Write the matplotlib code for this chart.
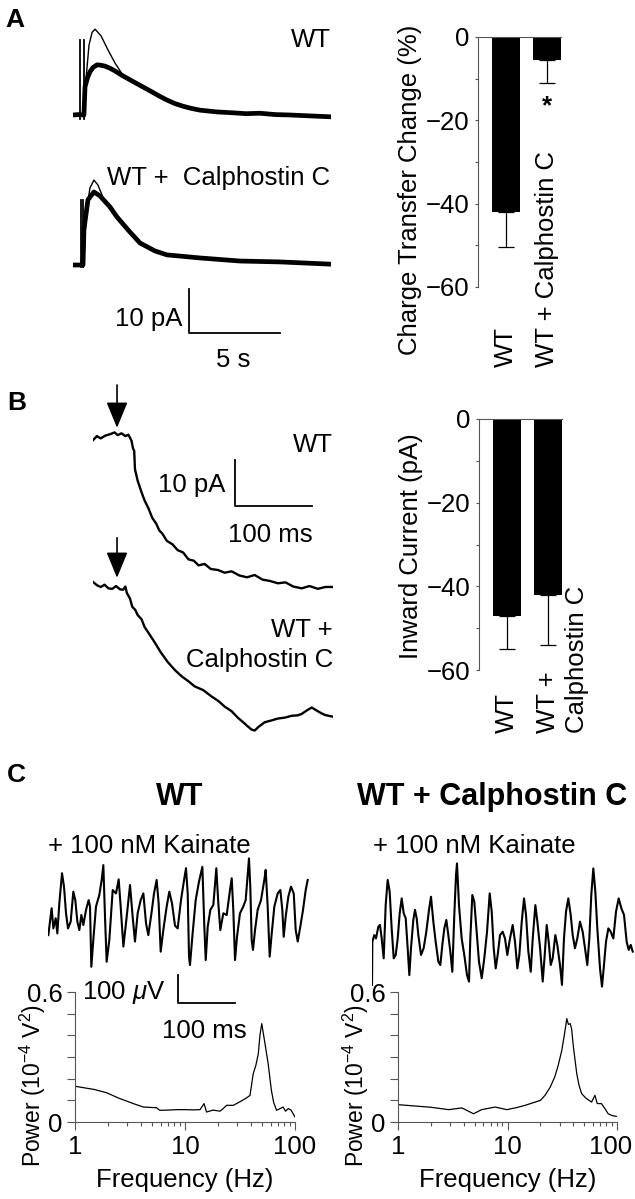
import matplotlib
matplotlib.use("Agg")
import matplotlib.pyplot as plt
from matplotlib.ticker import NullFormatter
from matplotlib.transforms import ScaledTranslation

plt.rcParams['font.family'] = 'Liberation Sans'
plt.rcParams['font.size'] = 18.5
plt.rcParams['mathtext.fontset'] = 'custom'
plt.rcParams['mathtext.rm'] = 'Liberation Sans'
plt.rcParams['mathtext.it'] = 'Liberation Sans:italic'

# ---- panel A traces (s, pA) ----
a_wt_t = [0, 0.3, 0.6, 0.66, 0.8, 0.93, 1.1, 1.32, 1.55, 1.76, 2.05, 2.31, 2.7, 3.13, 3.7, 4.23, 4.7,
          5.16, 5.6, 6.04, 6.5, 6.98, 7.9, 8.79, 9.5, 10.27, 11.1, 11.92, 13.0, 14.1]
a_wt_i = [0, 0.1, 0, 6.4, 8.5, 9.8, 10.8, 11.4, 11.3, 11.1, 10.6, 10.0, 9.0, 8.0, 6.7, 5.5, 4.4,
          3.4, 2.6, 2.0, 1.5, 1.1, 0.7, 0.5, 0.3, 0.4, 0.1, 0.0, -0.2, -0.4]
a_wt_thin_t = [0.6, 0.71, 0.88, 1.05, 1.21, 1.54, 1.92, 2.31, 2.75, 3.13]
a_wt_thin_i = [0, 8, 15.9, 18.8, 19.5, 18, 14.8, 11.8, 9.0, 8.0]
a_cal_t = [0, 0.55, 0.6, 0.82, 1.15, 1.48, 2.03, 2.42, 3.02, 3.68, 4.5, 5.16, 6.98, 9.18, 11.37, 14.1]
a_cal_i = [0, 0, 8.0, 14.8, 16.6, 15.7, 13.2, 10.9, 8.0, 5.0, 3.2, 2.3, 1.6, 0.9, 0.7, 0.2]
a_cal_thin_t = [0.6, 0.71, 0.93, 1.15, 1.37, 1.7, 2.14, 2.42]
a_cal_thin_i = [0, 11.4, 17.5, 19.3, 18.2, 14.8, 12.0, 10.9]

# ---- panel A / B bars ----
bar_groups = ["WT", "WT + Calphostin C"]
charge_change = [-42, -5.5]
charge_err = [8.5, 5.5]
inward_current = [-47, -42]
inward_err = [8, 12]

# ---- panel B traces (ms, pA) ----
b_wt_t = [0, 5, 10, 16, 22, 28, 32, 37, 42, 46, 50, 52, 53.5, 54.5, 58, 63, 67, 72, 77, 82, 86, 90, 96,
          103, 110, 117, 124, 131, 137, 145, 153, 162, 171, 180, 190, 200, 210, 220, 230, 240, 250,
          260, 271, 281, 292, 302, 312]
b_wt_i = [-0.7, 0.2, -0.3, 0.3, 0.6, 1.0, 0.4, 0.8, 0.2, 0.5, -0.8, -2.5, -3.0, -7.0, -9.5, -12.0,
          -13.8, -15.5, -17.6, -18.8, -20.3, -21.0, -22.6, -23.3, -24.6, -25.1, -26.6, -26.9, -27.9,
          -27.6, -28.7, -28.9, -29.5, -29.2, -30.1, -30.5, -30.0, -31.0, -31.3, -31.8, -31.6, -32.5,
          -32.9, -32.4, -33.0, -32.6, -32.6]
b_cal_t = [0, 5, 10, 15, 20, 25, 30, 35, 39, 42, 44, 48, 51, 55, 58, 63, 67, 73, 80, 88, 97, 106, 115,
           124, 132, 143, 154, 163, 171, 180, 188, 195, 201, 206, 210, 215, 223, 232, 240, 249, 258,
           266, 271, 278, 284, 290, 296, 301, 306, 312]
b_cal_i = [1.1, 0.4, 0.0, 0.5, -0.3, -0.4, 0.2, -0.5, -0.6, 0.1, -1.3, -2.5, -4.3, -5.0, -6.1, -7.0,
           -8.7, -10.2, -12.0, -14.2, -16.3, -18.0, -19.4, -20.5, -21.6, -22.4, -23.8, -24.8, -26.0,
           -27.0, -28.4, -29.4, -30.3, -31.0, -31.2, -30.4, -29.4, -29.0, -28.6, -28.4, -28.0, -27.9,
           -27.6, -26.8, -26.2, -26.8, -27.4, -27.8, -28.0, -28.2]

# ---- panel C field potentials (ms, uV) ----
c_wt_t = [0.6, 3.5, 6.4, 9.4, 13.5, 16.4, 19.9, 24.6, 28.1, 31.6, 35.1, 39.8, 44.4, 47.9, 51.5, 55,
          58.5, 62, 66.7, 71.3, 73.7, 76, 79.5, 84.2, 90, 94.2, 97.1, 100, 102.9, 107.6, 113.5, 119.3,
          124, 127.5, 132.2, 136.8, 143.9, 148.5, 152.6, 157.3, 162.6, 167.3, 172, 176, 181.9, 186,
          190.6, 194.1, 197.7, 202.3, 208.2, 212.8, 217.5, 222.8, 227.5, 233.3, 239.2, 242.1, 245.1,
          247.4, 249.1, 253.2, 259.1, 264.9, 270.8, 274.3, 276.7, 280.2, 284.8, 290.1, 295.3, 298.8,
          302.3, 307.6, 313.5, 319.3, 322.3, 325.1, 328.1, 331.6, 336.8, 342.6, 346.8, 352.6, 354.9,
          357.3, 359.6, 363.2, 367.8, 373.7, 379.5, 381.9, 385.4, 388.9, 392.5, 397.1, 403, 407.6,
          411.1, 413.5, 417, 421.6, 426.3, 431.1, 434.6, 438.1, 442.6, 447.4, 452.1, 455.6]
c_wt_v = [-54, -6, 42, -30, 6, -48, 60, 167, 119, 24, -30, -6, 101, 71, -6, -36, 18, -18, 36, 71, 48,
          -167, -71, 48, 89, 143, 196, 12, -149, -71, 107, 95, 145, 48, -95, -12, 125, 12, -77, 24, 71,
          95, -12, -54, 30, 95, 143, 60, -113, -36, 48, 101, 60, -20, -30, 71, 149, 185, 95, -131,
          -161, -60, 71, 137, 190, -24, -143, -24, 36, 54, 185, 60, -36, 24, 18, 107, 149, 36, -143,
          -60, 24, 48, 71, 220, 119, -71, -107, -36, 36, 71, 143, 179, 48, -131, -48, 48, 95, 107, 36,
          -60, 12, 83, 119, 95, -36, -77, -24, 36, 107, 143]
c_cal_t = [0, 0.6, 4, 7, 11.1, 14, 17, 20.5, 24, 27.5, 31, 34.5, 38.1, 41.6, 45.1, 48.6, 52.1, 55.6,
           59.1, 62.6, 65.5, 68.4, 72.5, 75.4, 78.4, 81.3, 86, 90.6, 95.3, 100, 103.5, 107.6, 111.7,
           116.4, 119.9, 123.4, 126.9, 130.4, 133.9, 137.4, 140.9, 144.4, 147.4, 149.1, 152.6, 157.3,
           161.9, 166.7, 170.2, 172.5, 176, 179.5, 183.6, 187.7, 192.5, 197, 201.8, 206.5, 210, 213.5,
           217, 220.5, 224.6, 229.2, 233.3, 237.4, 242.1, 246.8, 250.9, 255, 258.5, 262.7, 266.7,
           270.2, 274.3, 278.5, 282, 286.6, 290.1, 294.9, 299.5, 303, 306.5, 310, 313.5, 317, 321.6,
           325.1, 329.8, 333.3, 336.8, 340.4, 344.4, 348.6, 352.1, 356.1, 360.2, 364.9, 369.6, 373.7,
           377.7, 381.3, 384.7, 388.3, 391.8, 395.3, 400, 403.5, 407, 410.5, 414.6, 418.8, 423.4,
           428.1, 432.8, 437.4, 442.1, 446.8, 450.4, 453.9, 457.4]
c_cal_v = [-214, -60, -36, -48, -6, 0, -48, -119, 71, 161, 119, -12, -119, -107, -48, 42, 95, 42, 24,
           -83, -179, -83, 18, 54, 24, -36, -107, -83, -24, 54, 101, 12, -60, -131, -143, -71, -12,
           18, -36, -95, -167, 36, 179, 220, 71, -48, -107, -179, -202, -48, 107, 83, -24, -131, -190,
           -119, -24, 113, 48, -83, -155, -107, -36, -24, -48, -107, -48, 0, -60, -155, -107, 12, 95,
           36, -95, -167, -48, 71, 12, -83, -202, -107, 0, -60, -143, -119, -36, -71, -143, -214, -48,
           48, 95, 36, -36, -83, -48, 12, -24, -83, -143, -48, 107, 202, 119, -12, -155, -220, -143,
           -60, -12, -24, -48, 48, 95, 60, 36, -60, -89, -71, -95]

# ---- panel C power spectra (Hz, 1e-4 V^2) ----
wt_freq = [1, 1.5, 1.94, 2.5, 3.39, 4.18, 5.5, 5.9, 7, 8.5, 10, 12, 13.7, 14.9, 15.7, 18, 20.8, 22,
           23.9, 27.5, 32, 36.5, 39, 41.7, 44, 46.4, 48, 49.9, 51.5, 53.4, 57, 61, 64, 68, 72, 78, 82,
           87, 92, 100]
wt_power = [0.165, 0.15, 0.135, 0.11, 0.085, 0.069, 0.066, 0.054, 0.055, 0.057, 0.057, 0.056, 0.057,
            0.085, 0.046, 0.055, 0.05, 0.06, 0.077, 0.077, 0.095, 0.112, 0.123, 0.223, 0.26, 0.315,
            0.40, 0.454, 0.41, 0.36, 0.27, 0.146, 0.09, 0.054, 0.06, 0.069, 0.05, 0.062, 0.055, 0.023]
cal_freq = [1, 2, 2.9, 3.83, 4.9, 5.8, 7.7, 9.85, 12, 14.5, 17.9, 20, 22, 24.5, 27, 29, 31.3, 33, 34.8,
            36, 37.4, 38.5, 40, 42.9, 45, 47.5, 52, 58.6, 62.9, 66, 72, 78, 83, 90, 98.5]
cal_power = [0.08, 0.068, 0.057, 0.065, 0.038, 0.057, 0.069, 0.057, 0.066, 0.077, 0.092, 0.1, 0.123,
             0.16, 0.208, 0.26, 0.33, 0.40, 0.477, 0.45, 0.454, 0.43, 0.346, 0.223, 0.17, 0.131, 0.11,
             0.092, 0.123, 0.085, 0.085, 0.06, 0.038, 0.03, 0.026]

W, H = 635, 1199
fig = plt.figure(figsize=(W / 100, H / 100), dpi=100)


def px_axes(left, top, right, bottom):
    ax = fig.add_axes([left / W, 1 - bottom / H, (right - left) / W, (bottom - top) / H])
    ax.patch.set_alpha(0)
    return ax


def trace_axes(x0, y0, xscale, yscale, xspan, ylow, yhigh):
    # axes placed so that data units map to the picture's scale bars
    ax = px_axes(x0, y0 - yhigh * yscale, x0 + xspan * xscale, y0 - ylow * yscale)
    ax.set_xlim(0, xspan)
    ax.set_ylim(ylow, yhigh)
    ax.axis('off')
    return ax


def fig_text(x, y, s, **kw):
    fig.text(x / W, 1 - y / H, s, **kw)


fig_text(5, 27, "A", fontsize=19, fontweight='bold', va='baseline')
fig_text(7, 410, "B", fontsize=19, fontweight='bold', va='baseline')
fig_text(7, 782, "C", fontsize=19, fontweight='bold', va='baseline')

# ---------------- A traces ----------------
axa1 = trace_axes(73, 115, 18.2, 4.4, 14.2, -2, 21)
axa1.plot(a_wt_t, a_wt_i, color='k', lw=3.4, solid_joinstyle='round')
axa1.plot(a_wt_thin_t, a_wt_thin_i, color='k', lw=1.0)
axa1.plot([0.41, 0.41], [-0.9, 17], color='k', lw=1.3)
axa1.plot([0.58, 0.58], [-0.9, 17], color='k', lw=1.3)
axa1.text(14.15, 15.5, "WT", ha='right', va='baseline')

axa2 = trace_axes(73, 265, 18.2, 4.4, 14.2, -16, 21)
axa2.plot(a_cal_t, a_cal_i, color='k', lw=3.4, solid_joinstyle='round')
axa2.plot(a_cal_thin_t, a_cal_thin_i, color='k', lw=1.0)
axa2.plot([0.44, 0.44], [-0.5, 14.8], color='k', lw=1.3)
axa2.plot([0.55, 0.55], [-0.5, 14.8], color='k', lw=1.3)
axa2.text(14.15, 18.2, "WT +  Calphostin C", ha='right', va='baseline')
axa2.plot([6.37, 6.37, 11.37], [-5.5, -15.5, -15.5], color='k', lw=1.3, clip_on=False)
axa2.text(6.0, -13.9, "10 pA", ha='right', va='baseline')
axa2.text(8.8, -23.2, "5 s", ha='center', va='baseline')


# ---------------- bars ----------------
def bar_panel(ax, vals, errs, ylabel, label_y):
    x = [0, 1]
    ax.bar(x, vals, width=0.67, color='k')
    ax.errorbar(x, vals, yerr=[errs, [0, 0]], fmt='none', ecolor='k', elinewidth=0.9,
                capsize=6, capthick=0.9)
    ax.set_xlim(-0.68, 1.335)
    ax.set_ylim(-60, 0)
    ax.set_yticks([0, -20, -40, -60])
    ax.set_yticks([-10, -30, -50], minor=True)
    ax.set_xticks([])
    for side in ['right', 'bottom']:
        ax.spines[side].set_visible(False)
    for side in ['left', 'top']:
        ax.spines[side].set_color('#555555')
        ax.spines[side].set_linewidth(0.8)
    ax.tick_params(axis='y', which='both', length=2.5, width=0.8, color='#555555', pad=3.5)
    ax.text(-0.82, label_y, ylabel, transform=ax.transAxes, rotation=90, ha='center', va='center')


axbA = px_axes(478, 37, 561, 287)
bar_panel(axbA, charge_change, charge_err, "Charge Transfer Change (%)", 0.39)
axbA.text(0, -79.2, bar_groups[0], rotation=90, ha='center', va='bottom')
axbA.text(1, -79.2, bar_groups[1], rotation=90, ha='center', va='bottom')
axbA.text(1, -18.2, "*", ha='center', va='baseline', fontweight='bold')

axbB = px_axes(479, 419, 562, 670)
bar_panel(axbB, inward_current, inward_err, "Inward Current (pA)", 0.494)
axbB.text(0, -75.1, "WT", rotation=90, ha='center', va='bottom')
axbB.text(0.7, -75.1, "WT +\nCalphostin C", rotation=90, ha='left', va='bottom',
          multialignment='left', linespacing=1.25)

# ---------------- B traces ----------------
arrow = dict(arrowstyle='-|>,head_length=0.8,head_width=0.33', color='k', lw=1.2,
             mutation_scale=20, shrinkA=0, shrinkB=0)
axb1 = trace_axes(93, 437, 0.77, 4.6, 312, -35, 12)
axb1.plot(b_wt_t, b_wt_i, color='k', lw=1.7)
axb1.annotate('', xy=(31.2, 2.0), xytext=(31.2, 11.3), arrowprops=arrow, annotation_clip=False)
axb1.plot([184.4, 184.4, 284.4], [-5, -15, -15], color='k', lw=1.3, clip_on=False)
axb1.text(171.4, -12.0, "10 pA", ha='right', va='baseline')
axb1.text(230.5, -22.8, "100 ms", ha='center', va='baseline')
axb1.text(311.7, -3.3, "WT", ha='right', va='baseline')

axb2 = trace_axes(93, 587, 0.77, 4.6, 312, -33, 12)
axb2.plot(b_cal_t, b_cal_i, color='k', lw=1.7)
axb2.annotate('', xy=(31.2, 2.0), xytext=(31.2, 10.7), arrowprops=arrow, annotation_clip=False)
axb2.text(311.7, -10.9, "WT +", ha='right', va='baseline')
axb2.text(311.7, -17.4, "Calphostin C", ha='right', va='baseline')

# ---------------- C ----------------
fig_text(180, 805, "WT", fontsize=22, fontweight='bold', ha='center', va='baseline')
fig_text(492, 805, "WT + Calphostin C", fontsize=22, fontweight='bold', ha='center', va='baseline')

axc1 = trace_axes(48, 920, 0.57, 0.28, 458, -300, 250)
axc1.plot(c_wt_t, c_wt_v, color='k', lw=1.5)
axc1.text(0, 239, "+ 100 nM Kainate", ha='left', va='baseline')
axc1.plot([228, 228, 328], [-196, -296, -296], color='k', lw=1.3, clip_on=False)
axc1.text(205, -282, r"100 $\mu$V", ha='right', va='baseline')
axc1.text(274, -421, "100 ms", ha='center', va='baseline')

axc2 = trace_axes(372, 925, 0.57, 0.28, 460, -240, 250)
axc2.plot(c_cal_t, c_cal_v, color='k', lw=1.5)
axc2.text(1.75, 257, "+ 100 nM Kainate", ha='left', va='baseline')


def spectrum(ax, f, p, label_x):
    ax.plot(f, p, color='k', lw=0.9)
    ax.set_xscale('log')
    ax.set_xlim(1, 100)
    ax.set_ylim(0, 0.6)
    ax.set_xticks([1, 10, 100])
    ax.set_xticklabels(['1', '10', '100'])
    ax.xaxis.set_minor_formatter(NullFormatter())
    ax.set_yticks([0, 0.1, 0.2, 0.3, 0.4, 0.5, 0.6])
    ax.set_yticklabels(['0', '', '', '', '', '', '0.6'])
    for side in ['right', 'top']:
        ax.spines[side].set_visible(False)
    for side in ['left', 'bottom']:
        ax.spines[side].set_color('#555555')
        ax.spines[side].set_linewidth(0.8)
    ax.tick_params(axis='both', which='major', length=5.5, width=0.8, color='#555555', pad=3.5)
    ax.tick_params(axis='x', which='minor', length=3, width=0.8, color='#555555')
    ax.set_xlabel("Frequency (Hz)", labelpad=7)
    ax.text(label_x, 0.28, r"Power (10$^{-4}$ V$^{2}$)", transform=ax.transAxes,
            rotation=90, ha='center', va='center', fontsize=16.5)


axs1 = px_axes(75, 992, 295, 1122)
spectrum(axs1, wt_freq, wt_power, -0.19)
axs2 = px_axes(398, 992, 617, 1122)
spectrum(axs2, cal_freq, cal_power, -0.19)
# the "100" at the right edge sits a little left of its tick, as in the source
last = axs2.get_xticklabels()[-1]
last.set_transform(last.get_transform() + ScaledTranslation(-0.06, 0, fig.dpi_scale_trans))

fig.savefig("out.png", dpi=100)
